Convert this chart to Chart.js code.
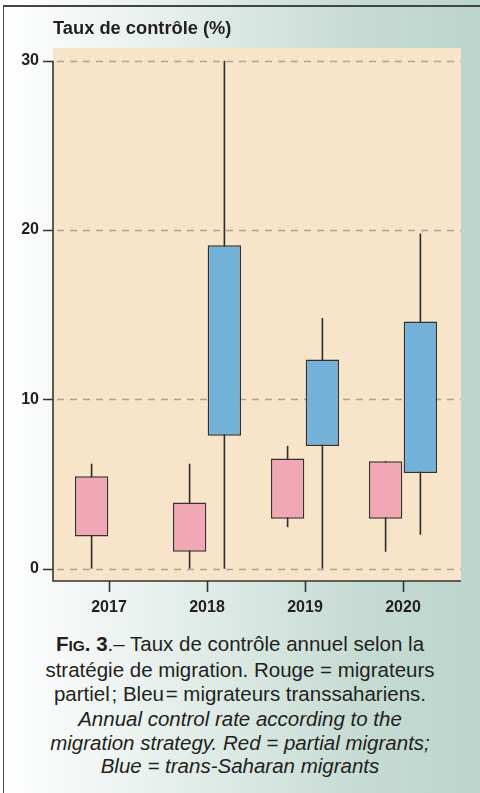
<!DOCTYPE html>
<html>
<head>
<meta charset="utf-8">
<script src="https://cdn.jsdelivr.net/npm/chart.js@4"></script>
<style>
  html, body { margin: 0; padding: 0; }
  body {
    width: 480px; height: 793px; overflow: hidden; position: relative;
    background: linear-gradient(to right, #ffffff 0%, #e6efeb 35%, #c6dbd3 75%, #bcd5cc 100%);
    font-family: "Liberation Sans", Arial, sans-serif;
    color: #231f20;
  }
  #frame {
    position: absolute; left: 3px; top: 5px; right: -2px; bottom: -2px;
    border-left: 1.5px solid #444; border-top: 2px solid #444;
  }
  #wrap { position: absolute; left: 0; top: 0; width: 480px; height: 625px; }
  #ytitle {
    position: absolute; left: 53px; top: 17px;
    font-size: 18.3px; font-weight: bold; line-height: 22px;
  }
  #caption {
    position: absolute; left: 0; top: 632px; width: 480px;
    text-align: center; font-size: 20.5px; line-height: 24px;
  }
  #caption .sc { font-weight: bold; }
  #caption .sc small { font-size: 15.5px; }
  #caption .en { font-style: italic; margin-top: 1px; line-height: 23.5px; }
</style>
</head>
<body>
<div id="frame"></div>
<div id="wrap"><canvas id="boxChart" width="480" height="625"></canvas></div>
<div id="ytitle">Taux de contrôle (%)</div>
<div id="caption">
  <div><span class="sc">F<small>IG</small>. 3</span>.– Taux de contrôle annuel selon la<br>stratégie de migration. Rouge = migrateurs<br>partiel&#8202;; Bleu&#8202;= migrateurs transsahariens.</div>
  <div class="en">Annual control rate according to the<br>migration strategy. Red = partial migrants;<br>Blue = trans-Saharan migrants</div>
</div>
<script>
const years = ['2017', '2018', '2019', '2020'];
const yTicks = [0, 10, 20, 30];

// partial migrants (red)
const redMin = [0, 0, 2.45, 1.0];
const redQ1 = [1.9, 1.0, 2.95, 2.95];
const redQ3 = [5.45, 3.9, 6.5, 6.35];
const redMax = [6.2, 6.2, 7.25, 6.35];

// trans-Saharan migrants (blue), none in 2017
const blueMin = [null, 0, 0, 2.0];
const blueQ1 = [null, 7.85, 7.25, 5.65];
const blueQ3 = [null, 19.1, 12.35, 14.6];
const blueMax = [null, 30, 14.8, 19.8];

const boxes = (q1, q3) => q1.map((v, i) => v === null ? null : [v, q3[i]]);

// panel reaches a bit past the category band on both sides
const padL = 7, padR = 9;

// beige plot background, dashed grid, axis lines and y tick marks
const panel = {
    id: 'panel',
    beforeDatasetsDraw(chart) {
        const { ctx, chartArea: a, scales } = chart;
        const left = a.left - padL, right = a.right + padR;
        ctx.save();
        ctx.fillStyle = '#f8e4c8';
        ctx.fillRect(left, a.top, right - left, a.bottom - a.top);
        ctx.strokeStyle = '#a9a49d';
        ctx.lineWidth = 1.4;
        ctx.setLineDash([7, 6]);
        yTicks.forEach(v => {
            const y = Math.round(scales.y.getPixelForValue(v)) + 0.5;
            ctx.beginPath();
            ctx.moveTo(left + 4, y);
            ctx.lineTo(right, y);
            ctx.stroke();
        });
        ctx.restore();
    },
    afterDatasetsDraw(chart) {
        const { ctx, chartArea: a, scales } = chart;
        const left = a.left - padL, right = a.right + padR;
        ctx.save();
        ctx.strokeStyle = '#333';
        ctx.lineWidth = 1.6;
        ctx.beginPath();
        ctx.moveTo(left, scales.y.getPixelForValue(30));
        ctx.lineTo(left, a.bottom);
        ctx.lineTo(right, a.bottom);
        yTicks.forEach(v => {
            const y = Math.round(scales.y.getPixelForValue(v)) + 0.5;
            ctx.moveTo(left - 10, y);
            ctx.lineTo(left, y);
        });
        ctx.stroke();
        ctx.restore();
    }
};

// whiskers drawn behind the boxes
const whiskers = {
    id: 'whiskers',
    beforeDatasetsDraw(chart) {
        const { ctx, scales } = chart;
        const lows = [redMin, blueMin];
        const highs = [redMax, blueMax];
        ctx.save();
        ctx.strokeStyle = '#2b2b2b';
        ctx.lineWidth = 1.6;
        chart.data.datasets.forEach((ds, d) => {
            chart.getDatasetMeta(d).data.forEach((bar, i) => {
                if (lows[d][i] === null) return;
                ctx.beginPath();
                ctx.moveTo(bar.x, scales.y.getPixelForValue(lows[d][i]));
                ctx.lineTo(bar.x, scales.y.getPixelForValue(highs[d][i]));
                ctx.stroke();
            });
        });
        ctx.restore();
    }
};

const ctx = document.getElementById('boxChart').getContext('2d');
new Chart(ctx, {
    type: 'bar',
    data: {
        labels: years,
        datasets: [
            {
                label: 'Rouge',
                data: boxes(redQ1, redQ3),
                backgroundColor: '#f0a8b6',
                borderColor: '#3a3030',
                borderWidth: 1.5,
                borderSkipped: false,
            },
            {
                label: 'Bleu',
                data: boxes(blueQ1, blueQ3),
                backgroundColor: '#74b1d8',
                borderColor: '#2f3336',
                borderWidth: 1.5,
                borderSkipped: false,
            }
        ]
    },
    plugins: [panel, whiskers],
    options: {
        responsive: false,
        animation: false,
        categoryPercentage: 0.71,
        barPercentage: 0.96,
        skipNull: false,
        layout: { padding: { top: 48, left: 0, right: 28, bottom: 0 } },
        plugins: {
            legend: { display: false },
            tooltip: { enabled: false }
        },
        scales: {
            x: {
                afterFit(scale) { scale.height = 44; },
                border: { display: false },
                grid: {
                    offset: false,
                    drawOnChartArea: false,
                    drawTicks: true,
                    tickLength: 11,
                    tickColor: '#333',
                    tickWidth: 1.6
                },
                ticks: {
                    color: '#231f20',
                    padding: 6,
                    font: { family: 'Liberation Sans', size: 16, weight: 'bold' }
                }
            },
            y: {
                min: -0.73,
                max: 30.75,
                afterFit(scale) { scale.width = 60; },
                afterBuildTicks(scale) { scale.ticks = yTicks.map(v => ({ value: v })); },
                border: { display: false },
                grid: { display: false, drawTicks: false },
                ticks: {
                    color: '#231f20',
                    padding: 21,
                    font: { family: 'Liberation Sans', size: 16, weight: 'bold' }
                }
            }
        }
    }
});
</script>
</body>
</html>
